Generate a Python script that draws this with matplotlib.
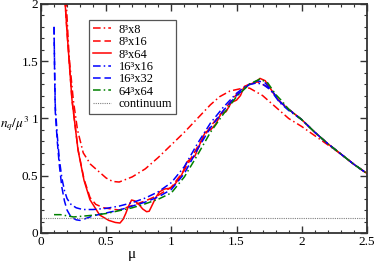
import matplotlib
matplotlib.use("Agg")
import matplotlib.pyplot as plt
from matplotlib.ticker import MultipleLocator

plt.rcParams['font.family'] = ['Liberation Serif', 'DejaVu Serif']
plt.rcParams['mathtext.fontset'] = 'stix'

# ----- DATA -----
x_8x8 = [0.19, 0.215, 0.248, 0.28, 0.324, 0.38, 0.45, 0.5, 0.55, 0.6, 0.7, 0.8, 0.9, 1.0,
         1.1, 1.2, 1.3, 1.37, 1.45, 1.55, 1.6, 1.7, 1.8, 1.9, 2.0, 2.1, 2.2, 2.3, 2.4, 2.5]
y_8x8 = [2.1, 1.55, 1.16, 0.9, 0.7, 0.6, 0.53, 0.48, 0.45, 0.445, 0.49, 0.56, 0.66, 0.77,
         0.88, 1.0, 1.12, 1.19, 1.24, 1.265, 1.265, 1.2, 1.1, 1.0, 0.93, 0.85, 0.77, 0.69, 0.6, 0.52]

x_8x16 = [0.18, 0.2, 0.238, 0.284, 0.33, 0.376, 0.42, 0.48, 0.6, 0.7, 0.8, 0.9, 1.0, 1.1, 1.2,
          1.3, 1.4, 1.5, 1.6, 1.66, 1.75, 1.83, 1.9, 2.0, 2.1, 2.2, 2.3, 2.4, 2.5]
y_8x16 = [2.1, 1.75, 1.16, 0.73, 0.47, 0.31, 0.25, 0.22, 0.2, 0.24, 0.28, 0.33, 0.4, 0.55, 0.75,
          0.93, 1.07, 1.21, 1.3, 1.32, 1.27, 1.15, 1.08, 0.99, 0.88, 0.78, 0.69, 0.6, 0.52]

x_8x64 = [0.18, 0.2, 0.238, 0.284, 0.33, 0.376, 0.45, 0.52, 0.57, 0.606, 0.63, 0.65, 0.67,
          0.695, 0.72, 0.75, 0.78, 0.81, 0.83, 0.86, 0.88, 0.91, 0.95, 0.99, 1.03, 1.08, 1.12,
          1.15, 1.18, 1.22, 1.26, 1.3, 1.34, 1.38, 1.42, 1.46, 1.5, 1.53, 1.56, 1.6, 1.64, 1.68,
          1.72, 1.76, 1.83, 1.9, 2.0, 2.1, 2.2, 2.3, 2.4, 2.5]
y_8x64 = [2.1, 1.75, 1.16, 0.725, 0.46, 0.29, 0.157, 0.11, 0.092, 0.087, 0.12, 0.17, 0.23,
          0.288, 0.28, 0.25, 0.21, 0.186, 0.19, 0.26, 0.31, 0.36, 0.385, 0.39, 0.43, 0.51, 0.62,
          0.65, 0.67, 0.78, 0.88, 0.9, 0.95, 1.04, 1.06, 1.14, 1.16, 1.2, 1.28, 1.3, 1.31, 1.35,
          1.33, 1.26, 1.15, 1.08, 0.99, 0.88, 0.78, 0.69, 0.6, 0.52]

x_16x16 = [0.1, 0.105, 0.11, 0.125, 0.14, 0.16, 0.18, 0.2, 0.23, 0.27, 0.32, 0.4, 0.5, 0.6,
           0.7, 0.8, 0.9, 1.0, 1.1, 1.2, 1.3, 1.4, 1.5, 1.58, 1.65, 1.7, 1.76, 1.83, 1.9, 2.0,
           2.1, 2.2, 2.3, 2.4, 2.5]
y_16x16 = [1.8, 1.4, 1.1, 0.85, 0.65, 0.48, 0.37, 0.3, 0.25, 0.22, 0.205, 0.205, 0.215, 0.235,
           0.265, 0.305, 0.36, 0.44, 0.58, 0.78, 0.96, 1.1, 1.22, 1.29, 1.31, 1.3, 1.25, 1.14,
           1.07, 0.99, 0.88, 0.78, 0.69, 0.6, 0.52]

x_16x32 = [0.1, 0.105, 0.11, 0.125, 0.14, 0.16, 0.18, 0.2, 0.23, 0.27, 0.3, 0.34, 0.4, 0.5,
           0.6, 0.7, 0.8, 0.9, 1.0, 1.1, 1.2, 1.3, 1.4, 1.5, 1.6, 1.66, 1.72, 1.78, 1.83, 1.9,
           2.0, 2.1, 2.2, 2.3, 2.4, 2.5]
y_16x32 = [1.8, 1.35, 1.05, 0.8, 0.6, 0.4, 0.28, 0.2, 0.14, 0.115, 0.11, 0.125, 0.15, 0.175,
           0.2, 0.235, 0.27, 0.315, 0.38, 0.52, 0.73, 0.92, 1.07, 1.2, 1.3, 1.33, 1.31, 1.23,
           1.15, 1.08, 0.99, 0.88, 0.78, 0.69, 0.6, 0.52]

x_64x64 = [0.1, 0.15, 0.2, 0.25, 0.3, 0.4, 0.5, 0.6, 0.7, 0.8, 0.9, 1.0, 1.1, 1.2, 1.3, 1.4,
           1.5, 1.6, 1.68, 1.74, 1.8, 1.85, 1.9, 2.0, 2.1, 2.2, 2.3, 2.4, 2.5]
y_64x64 = [0.16, 0.16, 0.15, 0.14, 0.145, 0.155, 0.17, 0.195, 0.22, 0.255, 0.295, 0.35, 0.49,
           0.68, 0.88, 1.04, 1.19, 1.3, 1.345, 1.31, 1.21, 1.15, 1.08, 0.99, 0.88, 0.78, 0.69,
           0.6, 0.52]

continuum = 0.135

# ----- PLOT -----
fig = plt.figure(figsize=(3.74, 2.65), dpi=100)
ax = fig.add_axes([0.1096, 0.1208, 0.8714, 0.8642])

dashdot = (0, (5, 2, 1, 2))
dashed = (0, (5, 2.5))
lw = 1.1
ax.plot(x_8x8, y_8x8, color='red', ls=dashdot, lw=lw, label='8³x8')
ax.plot(x_8x16, y_8x16, color='red', ls=dashed, lw=lw, label='8³x16')
ax.plot(x_8x64, y_8x64, color='red', ls='-', lw=lw, label='8³x64')
ax.plot(x_16x16, y_16x16, color='blue', ls=dashdot, lw=lw, label='16³x16')
ax.plot(x_16x32, y_16x32, color='blue', ls=dashed, lw=lw, label='16³x32')
ax.plot(x_64x64, y_64x64, color='green', ls=dashdot, lw=lw, label='64³x64')
ax.axhline(continuum, color='gray', ls=(0, (1, 1)), lw=0.8, label='continuum')

ax.set_xlim(0, 2.5)
ax.set_ylim(0, 2)
ax.set_xticks([0, 0.5, 1, 1.5, 2, 2.5])
ax.set_xticklabels(['0', '0.5', '1', '1.5', '2', '2.5'], fontsize=9.5)
ax.set_yticks([0, 0.5, 1, 1.5, 2])
ax.set_yticklabels(['0', '0.5', '1', '1.5', '2'], fontsize=9.5)
ax.xaxis.set_minor_locator(MultipleLocator(0.1))
ax.yaxis.set_minor_locator(MultipleLocator(0.1))
ax.tick_params(which='both', direction='in', top=True, right=True, color='#333333')
ax.tick_params(which='major', length=5, width=1, pad=2)
ax.tick_params(which='minor', length=2.5, width=0.8)
for s in ax.spines.values():
    s.set_linewidth(1.3)
    s.set_color('#333333')

fig.text(0.352, 0.04, 'μ', fontsize=11, ha='center', va='center')
fig.text(0.038, 0.535, r'$n_q/\mu^3$', fontsize=9.5, ha='center', va='center')

leg = ax.legend(loc='upper left', bbox_to_anchor=(0.147, 0.93), fontsize=9,
                handlelength=1.5, handletextpad=0.6, labelspacing=0.03,
                borderpad=0.3, borderaxespad=0, fancybox=False, framealpha=1)
leg.get_frame().set_edgecolor('#555555')
leg.get_frame().set_linewidth(0.9)

fig.savefig('out.png', dpi=100)
